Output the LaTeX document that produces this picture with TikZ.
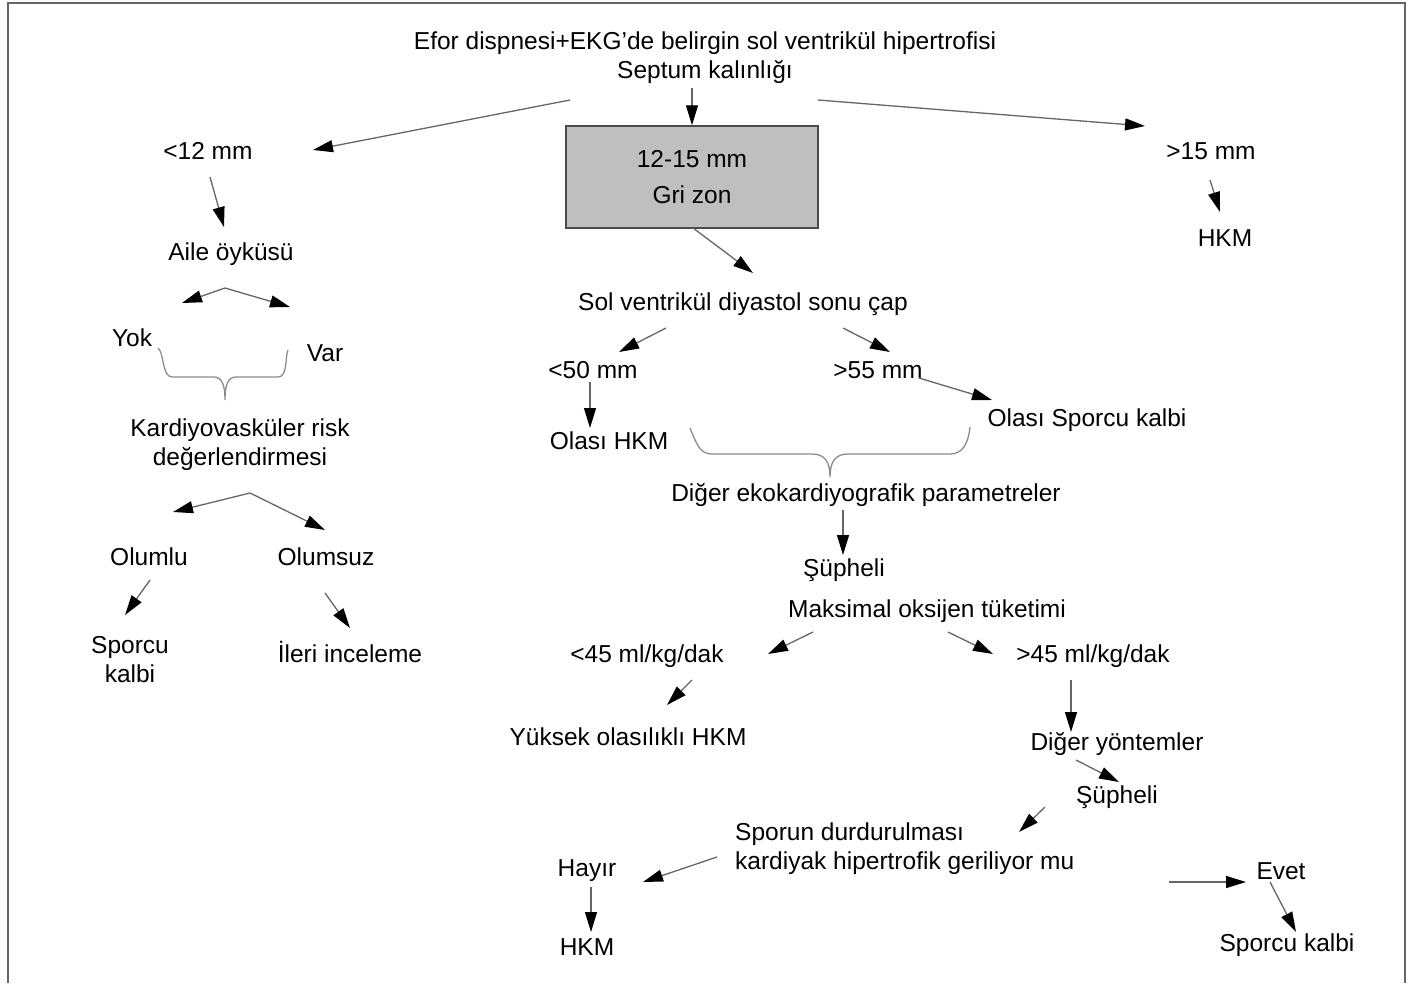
\documentclass[tikz,border=0pt]{standalone}
\usepackage{fontspec}
\setmainfont{Liberation Sans}
\usetikzlibrary{arrows.meta}
\begin{document}
\begin{tikzpicture}[x=1pt,y=-1pt,
  txt/.style={font=\fontsize{24.5}{29}\selectfont, inner sep=0pt, text=black},
  lbl/.style={txt, anchor=base},
  ml/.style={txt, align=center, anchor=center},
  arr/.style={draw=black!60, line width=1.3pt, -{Triangle[length=20pt,width=12pt,color=black]}},
  brc/.style={draw=black!45, line width=1.3pt},
  graybox/.style={draw=black!70, line width=1.5pt, fill=black!25, minimum width=252pt, minimum height=102pt, inner sep=0pt, align=center, font=\fontsize{24.5}{36}\selectfont},
]
\useasboundingbox (0,0) rectangle (1415,983);
\draw[black!60, line width=1.5pt] (8,983) -- (8,3) -- (1405,3) -- (1405,983);

% nodes
\node[ml] (top) at (705,58) {Efor dispnesi+EKG'de belirgin sol ventrikül hipertrofisi\\Septum kalınlığı};
\node[graybox] (box) at (692,177) {12-15 mm\\Gri zon};
\node[lbl] (lt12) at (208,159) {<12 mm};
\node[lbl] (gt15) at (1211,159) {>15 mm};
\node[lbl] (hkmA) at (1225,246) {HKM};
\node[lbl] (aile) at (231,260) {Aile öyküsü};
\node[lbl] (yok) at (132,346) {Yok};
\node[lbl] (var) at (325,361) {Var};
\node[ml] (kardio) at (240,445) {Kardiyovasküler risk\\değerlendirmesi};
\node[lbl] (olumlu) at (149,565) {Olumlu};
\node[lbl] (olumsuz) at (326,565) {Olumsuz};
\node[ml] (sporcuA) at (130,660) {Sporcu\\kalbi};
\node[lbl] (ileri) at (350,662) {İleri inceleme};
\node[lbl] (svd) at (743,310) {Sol ventrikül diyastol sonu çap};
\node[lbl] (lt50) at (593,378) {<50 mm};
\node[lbl] (gt55) at (878,378) {>55 mm};
\node[lbl] (olasihkm) at (609,449) {Olası HKM};
\node[lbl] (olasisp) at (1087,426) {Olası Sporcu kalbi};
\node[lbl] (diger) at (866,501) {Diğer ekokardiyografik parametreler};
\node[lbl] (supA) at (844,576) {Şüpheli};
\node[lbl] (maks) at (927,617) {Maksimal oksijen tüketimi};
\node[lbl] (lt45) at (647,662) {<45 ml/kg/dak};
\node[lbl] (gt45) at (1093,662) {>45 ml/kg/dak};
\node[lbl] (yuksek) at (628,745) {Yüksek olasılıklı HKM};
\node[lbl] (digeryon) at (1117,750) {Diğer yöntemler};
\node[lbl] (supB) at (1117,803) {Şüpheli};
\node[txt, align=left, anchor=west] (sporun) at (735,849) {Sporun durdurulması\\kardiyak hipertrofik geriliyor mu};
\node[lbl] (hayir) at (587,876) {Hayır};
\node[lbl] (hkmB) at (587,955) {HKM};
\node[lbl] (evet) at (1281,879) {Evet};
\node[lbl] (sporcuB) at (1287,951) {Sporcu kalbi};

% connectors
\draw[arr] ([shift={(-135,42)}]top.center) -- ([shift={(105,-9)}]lt12.base);
\draw[arr] ([shift={(-13,30)}]top.center) -- (box.north);
\draw[arr] ([shift={(113,42)}]top.center) -- ([shift={(-66,-33)}]gt15.base);
\draw[arr] ([shift={(-1,21)}]gt15.base) -- ([shift={(-5,-34)}]hkmA.base);
\draw[arr] ([shift={(2,18)}]lt12.base) -- ([shift={(-7,-33)}]aile.base);
\draw[arr] ([shift={(-6,28)}]aile.base) -- ([shift={(50,-43)}]yok.base);
\draw[arr] ([shift={(-6,28)}]aile.base) -- ([shift={(-35,-54)}]var.base);
\draw[brc] ([shift={(26,2)}]yok.base) .. controls ++(6,4) and ++(-10,0) .. ++(14,29) -- ++(42,0)
  .. controls ++(8,0) and ++(0,-15) .. ++(11,23) .. controls ++(0,-15) and ++(-8,0) .. ++(11,-23) -- ++(42,0)
  .. controls ++(10,0) and ++(-3,6) .. ([shift={(-37,-11)}]var.base);
\draw[arr] ([shift={(10,48)}]kardio.center) -- ([shift={(24,-53)}]olumlu.base);
\draw[arr] ([shift={(10,48)}]kardio.center) -- ([shift={(-1,-35)}]olumsuz.base);
\draw[arr] ([shift={(1,15)}]olumlu.base) -- ([shift={(-5,-45)}]sporcuA.center);
\draw[arr] ([shift={(-1,28)}]olumsuz.base) -- ([shift={(0,-34)}]ileri.base);
\draw[arr] ([shift={(1,51)}]box.center) -- ([shift={(10,-37)}]svd.base);
\draw[arr] ([shift={(-77,18)}]svd.base) -- ([shift={(26,-26)}]lt50.base);
\draw[arr] ([shift={(100,18)}]svd.base) -- ([shift={(12,-26)}]gt55.base);
\draw[arr] ([shift={(-3,4)}]lt50.base) -- ([shift={(-19,-21)}]olasihkm.base);
\draw[arr] ([shift={(41,0)}]gt55.base) -- ([shift={(-95,-26)}]olasisp.base);
\draw[brc] ([shift={(81,-21)}]olasihkm.base) .. controls ++(7,17) and ++(-12,0) .. ++(22,26) -- ++(100,0)
  .. controls ++(13,0) and ++(0,-15) .. ++(18,23) .. controls ++(0,-15) and ++(-13,0) .. ++(18,-23) -- ++(102,0)
  .. controls ++(12,0) and ++(-2,18) .. ([shift={(-117,1)}]olasisp.base);
\draw[arr] ([shift={(-23,9)}]diger.base) -- ([shift={(-1,-21)}]supA.base);
\draw[arr] ([shift={(-114,15)}]maks.base) -- ([shift={(121,-8)}]lt45.base);
\draw[arr] ([shift={(21,15)}]maks.base) -- ([shift={(-100,-8)}]gt45.base);
\draw[arr] ([shift={(45,18)}]lt45.base) -- ([shift={(39,-40)}]yuksek.base);
\draw[arr] ([shift={(-22,18)}]gt45.base) -- ([shift={(-46,-18)}]digeryon.base);
\draw[arr] ([shift={(-41,10)}]digeryon.base) -- ([shift={(2,-21)}]supB.base);
\draw[arr] ([shift={(-72,4)}]supB.base) -- ([shift={(284,-17)}]sporun.west);
\draw[arr] ([shift={(-18,8)}]sporun.west) -- ([shift={(56,6)}]hayir.base);
\draw[arr] ([shift={(434,33)}]sporun.west) -- ([shift={(-35,3)}]evet.base);
\draw[arr] ([shift={(4,11)}]hayir.base) -- ([shift={(4,-23)}]hkmB.base);
\draw[arr] ([shift={(-11,3)}]evet.base) -- ([shift={(9,-19)}]sporcuB.base);
\end{tikzpicture}
\end{document}
